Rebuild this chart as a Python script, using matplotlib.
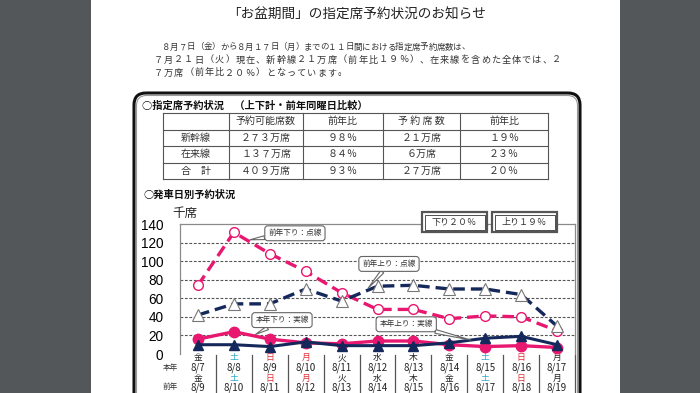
import matplotlib.pyplot as plt
from matplotlib.patches import Rectangle, FancyBboxPatch
import matplotlib.transforms as mtransforms
import numpy as np

plt.rcParams['font.family'] = ['Noto Sans CJK JP', 'DejaVu Sans']

# data (thousand seats)
this_dates = ['8/7', '8/8', '8/9', '8/10', '8/11', '8/12', '8/13', '8/14', '8/15', '8/16', '8/17']
prev_dates = ['8/9', '8/10', '8/11', '8/12', '8/13', '8/14', '8/15', '8/16', '8/17', '8/18', '8/19']
weekdays = ['金', '土', '日', '月', '火', '水', '木', '金', '土', '日', '月']
day_kind = ['w', 's', 'h', 'h', 'w', 'w', 'w', 'w', 's', 'h', 'w']
prev_down = [74, 131, 108, 89, 66, 48, 48, 38, 41, 40, 25]
prev_up = [42, 54, 54, 70, 57, 73, 74, 70, 70, 64, 30]
this_down = [16, 24, 16, 12, 11, 14, 14, 10, 8, 9, 7]
this_up = [10, 10, 8, 13, 9, 9, 9, 12, 17, 19, 10]

table_head = ['', '予約可能席数', '前年比', '予 約 席 数', '前年比']
table_rows = [['新幹線', '２７３万席', '９８％', '２１万席', '１９％'],
              ['在来線', '１３７万席', '８４％', '６万席', '２３％'],
              ['合　計', '４０９万席', '９３％', '２７万席', '２０％']]

body_lines = ['８月７日（金）から８月１７日（月）までの１１日間における指定席予約席数は、',
              '７月２１日（火）現在、新幹線２１万席（前年比１９％）、在来線を含めた全体では、２',
              '７万席（前年比２０％）となっています。']

PINK = '#e8176f'
NAVY = '#15285c'
kind_color = {'w': '#222222', 's': '#2aa7c8', 'h': '#e0303c'}

fig = plt.figure(figsize=(7, 3.93), dpi=100)
fig.patch.set_facecolor('white')

# chart
ax = fig.add_axes([180/700, 39/393, 395/700, 130/393])
x = np.arange(len(this_dates))
ax.plot(x, prev_down, color=PINK, lw=2.4, ls=(0, (3.5, 1.8)), marker='o', ms=7,
        mfc='white', mec=PINK, mew=1.0, zorder=3)
ax.plot(x, prev_up, color=NAVY, lw=2.4, ls=(0, (3.5, 1.8)), marker='^', ms=8,
        mfc='white', mec='#777777', mew=0.8, zorder=3)
ax.plot(x, this_down, color=PINK, lw=2.4, marker='o', ms=7.5, mfc=PINK, mec=PINK, zorder=4)
ax.plot(x, this_up, color=NAVY, lw=2.2, marker='^', ms=7.5, mfc=NAVY, mec=NAVY, zorder=5)

ax.set_xlim(-0.5, len(x) - 0.5)
ax.set_ylim(0, 140)
ax.set_yticks(range(0, 141, 20))
ax.set_xticks([])
ax.tick_params(axis='y', length=0, pad=12, labelsize=9.8)
for lab in ax.get_yticklabels():
    lab.set_family(['Liberation Sans', 'DejaVu Sans'])
for y in range(20, 140, 20):
    ax.axhline(y, color='#555555', lw=0.8, ls=(0, (2.5, 1.5)), zorder=1)
for s in ['top', 'right', 'left']:
    ax.spines[s].set_color('#8a8a8a')
    ax.spines[s].set_linewidth(0.9)
ax.spines['bottom'].set_visible(False)

# category labels under the axis
trans = mtransforms.blended_transform_factory(ax.transData, ax.transAxes)
for b in np.arange(0.5, len(x), 1.0):
    ax.plot([b, b], [-0.01, -0.32], color='#555555', lw=0.9, transform=trans, clip_on=False)
for i in x:
    c = kind_color[day_kind[i]]
    ax.text(i, -0.03, weekdays[i], transform=trans, ha='center', va='center', fontsize=6.3, color=c)
    ax.text(i, -0.108, this_dates[i], transform=trans, ha='center', va='center', fontsize=7, color='#222222')
    ax.text(i, -0.185, weekdays[i], transform=trans, ha='center', va='center', fontsize=6.3, color=c)
    ax.text(i, -0.262, prev_dates[i], transform=trans, ha='center', va='center', fontsize=7, color='#222222')

# call-outs
def callout(txt, target, place):
    ax.annotate(txt, xy=target, xytext=place, ha='center', va='center', fontsize=5.5,
                color='#333333', zorder=6,
                bbox=dict(boxstyle='round,pad=0.45,rounding_size=0.4', fc='white', ec='#666666', lw=0.8),
                arrowprops=dict(arrowstyle='wedge,tail_width=0.5,shrink_factor=0.5', fc='white',
                                ec='#666666', lw=0.8, shrinkA=0, shrinkB=0))

callout('前年下り：点線', (1.45, 123), (2.7, 130))
callout('前年上り：点線', (4.74, 71), (5.32, 97))
callout('本年下り：実線', (1.6, 21), (2.34, 36.5))
callout('本年上り：実線', (7.6, 15), (5.8, 32))

# page overlay in pixel coordinates
ov = fig.add_axes([0, 0, 1, 1])
ov.set_xlim(0, 700)
ov.set_ylim(393, 0)
ov.axis('off')
ov.patch.set_alpha(0)
ov.set_zorder(10)

ov.add_patch(Rectangle((0, 0), 91, 393, fc='#54575a', ec='none'))
ov.add_patch(Rectangle((620, 0), 80, 393, fc='#54575a', ec='none'))

ov.add_patch(FancyBboxPatch((134, 93), 446, 340, boxstyle='round,pad=0,rounding_size=12',
                            fc='none', ec='#111111', lw=2.2))
ov.add_patch(FancyBboxPatch((136.5, 95.5), 441, 335, boxstyle='round,pad=0,rounding_size=10',
                            fc='none', ec='#9a9a9a', lw=0.8))

ov.text(357, 15, '「お盆期間」の指定席予約状況のお知らせ', ha='center', va='center', fontsize=9.8, color='#222222')

def spaced(txt, x0, x1, y, size):
    step = (x1 - x0) / len(txt)
    for k, ch in enumerate(txt):
        ov.text(x0 + step * (k + 0.5), y, ch, ha='center', va='center', fontsize=size, color='#333333')

spaced(body_lines[0], 162, 470, 47, 6.1)
spaced(body_lines[1], 153, 562, 60, 6.6)
spaced(body_lines[2], 153, 347, 73, 6.6)

ov.text(142, 106, '○指定席予約状況　（上下計・前年同曜日比較）', ha='left', va='center',
        fontsize=7.4, fontweight='bold', color='#111111')

# table
col_x = [163, 229, 303, 383, 460, 548]
row_y = [113, 129.5, 146, 162.5, 179]
for cx in col_x:
    ov.plot([cx, cx], [row_y[0], row_y[-1]], color='#555555', lw=0.8)
for ry in row_y:
    ov.plot([col_x[0], col_x[-1]], [ry, ry], color='#555555', lw=0.8)
for r, row in enumerate([table_head] + table_rows):
    for c, cell in enumerate(row):
        ov.text((col_x[c] + col_x[c + 1]) / 2, (row_y[r] + row_y[r + 1]) / 2, cell,
                ha='center', va='center', fontsize=7.2, color='#333333')

ov.text(143, 195, '○発車日別予約状況', ha='left', va='center', fontsize=7.4, fontweight='bold', color='#111111')
ov.text(185, 213, '千席', ha='center', va='center', fontsize=9, color='#222222')
ov.text(170, 368, '本年', ha='center', va='center', fontsize=5.5, color='#333333')
ov.text(170, 387, '前年', ha='center', va='center', fontsize=5.5, color='#333333')

for (bx, label) in [(422, '下り２０％'), (492, '上り１９％')]:
    ov.add_patch(Rectangle((bx, 212), 65, 20, fc='white', ec='#555555', lw=1.6))
    ov.add_patch(Rectangle((bx + 2.5, 214.5), 60, 15, fc='none', ec='#333333', lw=0.6))
    ov.text(bx + 32.5, 222, label, ha='center', va='center', fontsize=6.5, color='#333333')

fig.savefig('out.png', dpi=100)
